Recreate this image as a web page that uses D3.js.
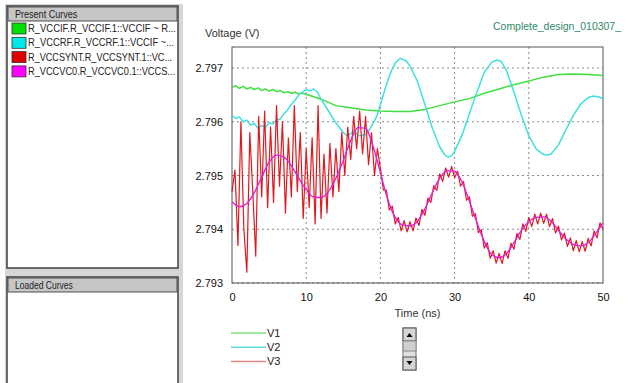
<!DOCTYPE html>
<html>
<head>
<meta charset="utf-8">
<script src="https://cdn.jsdelivr.net/npm/d3@7"></script>
<style>
  body { margin: 0; background: #fff; }
  svg { display: block; font-family: "Liberation Sans", Arial, sans-serif; }
</style>
</head>
<body>
<div id="chart"></div>
<script>
const xTicks = [0, 10, 20, 30, 40, 50];
const yTicks = [2.793, 2.794, 2.795, 2.796, 2.797];

const presentCurves = [
  "R_VCCIF.R_VCCIF.1::VCCIF ~ R...",
  "R_VCCRF.R_VCCRF.1::VCCIF ~...",
  "R_VCCSYNT.R_VCCSYNT.1::VC...",
  "R_VCCVC0.R_VCCVC0.1::VCCS..."
];
const curveColors = ["#00e000", "#00e8e8", "#e00000", "#ff00ff"];
const legendNames = ["V1", "V2", "V3"];
const legendColors = ["#80e080", "#60dede", "#e08484"];

// V1 (green)
const greenT = [0, 0.5, 1, 1.5, 2, 2.5, 3, 3.5, 4, 4.5, 5, 5.5, 6, 6.5, 7, 7.5, 8, 8.5, 9, 9.5, 10,
  12, 14, 16, 18, 20, 22, 24, 26, 28, 30, 32, 34, 36, 38, 40, 42, 44, 46, 48, 50];
const greenV = [2.79664, 2.79667, 2.79662, 2.79666, 2.79661, 2.79664, 2.7966, 2.79663, 2.79658, 2.79661,
  2.79657, 2.7966, 2.79656, 2.79658, 2.79654, 2.79656, 2.79653, 2.79655, 2.79652, 2.79653, 2.79651,
  2.79642, 2.7963, 2.79626, 2.79622, 2.7962, 2.79619, 2.79619, 2.79623, 2.7963, 2.79637, 2.79643,
  2.79653, 2.79661, 2.79669, 2.79676, 2.79683, 2.79688, 2.79689, 2.79688, 2.79686];

// V2 (cyan)
const cyanT = [0, 0.5, 1, 1.5, 2, 2.5, 3, 3.5, 4, 4.5, 5, 5.5, 6, 6.5, 7, 7.5, 8, 8.5, 9, 9.5, 10,
  10.5, 11, 11.5, 12, 13, 14, 15, 15.5, 16, 16.5, 17, 18, 18.5, 19, 19.5, 20, 20.5, 21, 21.5, 22,
  22.7, 23.5, 24, 25, 26, 27, 28, 28.6, 29.1, 29.6, 30, 31, 32, 33, 34, 35, 35.7, 36.3, 37, 38, 39,
  40, 41, 42, 42.5, 43, 44, 45, 46, 47, 48, 48.7, 49.5, 50];
const cyanV = [2.79612, 2.79606, 2.79609, 2.796, 2.79603, 2.79594, 2.79597, 2.79588, 2.79593, 2.79589,
  2.79598, 2.79596, 2.79603, 2.79605, 2.79615, 2.79622, 2.79632, 2.7964, 2.7965, 2.79655, 2.7966,
  2.79657, 2.79661, 2.79655, 2.79642, 2.7962, 2.79598, 2.7958, 2.79574, 2.79578, 2.79584, 2.79574,
  2.79576, 2.79585, 2.79597, 2.7961, 2.79632, 2.79655, 2.79677, 2.79695, 2.79709, 2.79718, 2.79713,
  2.79703, 2.79675, 2.79632, 2.79588, 2.79553, 2.7954, 2.79534, 2.79537, 2.79545, 2.79575, 2.79615,
  2.79655, 2.79692, 2.79711, 2.79715, 2.79712, 2.79695, 2.79655, 2.79612, 2.79574, 2.79549, 2.79539,
  2.79538, 2.7954, 2.79557, 2.79585, 2.79612, 2.79633, 2.79645, 2.79648, 2.79646, 2.79642];

// V4 (magenta), 1 ns steps
const magentaT = d3.range(0, 51);
const magentaV = [2.79451, 2.79442, 2.79448, 2.79468, 2.79497, 2.79525, 2.79538, 2.79534, 2.79518,
  2.79495, 2.79474, 2.7946, 2.79459, 2.7947, 2.79495, 2.79528, 2.79565, 2.79589, 2.79588, 2.79555,
  2.79505, 2.79455, 2.79422, 2.79408, 2.79406, 2.79415, 2.79438, 2.79468, 2.79495, 2.79509, 2.79508,
  2.79488, 2.79452, 2.79413, 2.79377, 2.79353, 2.79347, 2.79355, 2.79375, 2.79398, 2.79414, 2.79422,
  2.79423, 2.79415, 2.79398, 2.79382, 2.79372, 2.79369, 2.79375, 2.79392, 2.79412];

// V3 (red), sampled every 0.4 ns
const redV = [
  2.7947, 2.7951, 2.7937, 2.7960, 2.7940, 2.7932, 2.7958, 2.7947, 2.7935, 2.7961,
  2.7946, 2.7962, 2.7944, 2.7959, 2.7945, 2.7963, 2.7948, 2.7960, 2.7943, 2.7957,
  2.7946, 2.7963, 2.7947, 2.7958, 2.7942, 2.7955, 2.7944, 2.7957, 2.7941, 2.7963,
  2.7942, 2.7954, 2.7943, 2.7956, 2.7946, 2.7955, 2.7947, 2.7958, 2.7950, 2.7959,
  2.7953, 2.7961, 2.7955, 2.7962, 2.7954, 2.7961, 2.7952, 2.7958, 2.7950, 2.7955,
  2.79513, 2.79473, 2.79473, 2.79436, 2.79443, 2.7941, 2.79422, 2.79397, 2.79416, 2.79395,
  2.79414, 2.79397, 2.79421, 2.79407, 2.79437, 2.79426, 2.79458, 2.7945, 2.79481, 2.79472,
  2.79503, 2.79489, 2.79514, 2.79497, 2.79517, 2.79496, 2.79508, 2.7948, 2.79489, 2.79454,
  2.7946, 2.79424, 2.79429, 2.79394, 2.79399, 2.79365, 2.79375, 2.79346, 2.7936, 2.79337,
  2.79355, 2.79336, 2.7936, 2.79346, 2.79374, 2.79363, 2.79392, 2.79381, 2.7941, 2.79396,
  2.79422, 2.79405, 2.79428, 2.7941, 2.7943, 2.79411, 2.79428, 2.79405, 2.7942, 2.79393,
  2.79406, 2.7938, 2.79393, 2.79368, 2.79384, 2.7936, 2.79379, 2.79358, 2.79377, 2.79359,
  2.79383, 2.79369, 2.79397, 2.79384, 2.79412, 2.794
];
const redStep = 0.4;

// ---- layout ----
const W = 628, H = 383;
const plot = { left: 232, right: 603, top: 47, bottom: 283 };

const svg = d3.select("#chart").append("svg")
  .attr("width", W)
  .attr("height", H);

// left "curves" panels
const side = svg.append("g");
side.append("rect").attr("x", 5).attr("y", 4).attr("width", 178).attr("height", 379)
  .attr("fill", "#d6d6d6");
function panel(y0, h, title) {
  side.append("rect").attr("x", 7).attr("y", y0).attr("width", 171).attr("height", h)
    .attr("fill", "#fff").attr("stroke", "#404040").attr("stroke-width", 1.5);
  side.append("rect").attr("x", 8).attr("y", y0 + 1).attr("width", 169).attr("height", 14)
    .attr("fill", "#c6c6c6").attr("stroke", "#505050");
  side.append("text").attr("x", 15).attr("y", y0 + 12).attr("font-size", 10.5)
    .attr("textLength", title.length * 4.45).attr("lengthAdjust", "spacingAndGlyphs")
    .attr("fill", "#222").text(title);
}
panel(6, 262, "Present Curves");
panel(277, 110, "Loaded Curves");

const rowEnds = [176, 174, 172, 175];
presentCurves.forEach(function(name, i) {
  const y = 28 + i * 14.3;
  side.append("rect").attr("x", 12).attr("y", y - 5).attr("width", 14).attr("height", 11)
    .attr("fill", curveColors[i]).attr("stroke", "#333").attr("stroke-width", 0.8);
  side.append("text").attr("x", 28).attr("y", y + 4).attr("font-size", 11)
    .attr("textLength", rowEnds[i] - 28).attr("lengthAdjust", "spacingAndGlyphs")
    .attr("fill", "#222").text(name);
});

// scales
const x = d3.scaleLinear().domain([0, 50]).range([plot.left, plot.right]);
const y = d3.scaleLinear().domain([2.793, 2.797]).range([plot.bottom, 68]);

// title and axis names
svg.append("text").attr("x", 493).attr("y", 30).attr("font-size", 11)
  .attr("textLength", 128).attr("lengthAdjust", "spacingAndGlyphs")
  .attr("fill", "#2f8a6a").text("Complete_design_010307_");
svg.append("text").attr("x", 205).attr("y", 37).attr("font-size", 11)
  .attr("fill", "#333").text("Voltage (V)");
svg.append("text").attr("x", (plot.left + plot.right) / 2).attr("y", 317)
  .attr("text-anchor", "middle").attr("font-size", 11).attr("fill", "#333").text("Time (ns)");

// grid
const grid = svg.append("g").attr("stroke", "#8a8a8a").attr("stroke-dasharray", "2,3");
grid.selectAll(".gx").data(xTicks.slice(1, -1)).enter().append("line")
  .attr("x1", d => x(d)).attr("x2", d => x(d))
  .attr("y1", plot.top).attr("y2", plot.bottom);
grid.selectAll(".gy").data(yTicks).enter().append("line")
  .attr("x1", plot.left).attr("x2", plot.right)
  .attr("y1", d => y(d)).attr("y2", d => y(d));

// frame
svg.append("rect").attr("x", plot.left).attr("y", plot.top)
  .attr("width", plot.right - plot.left).attr("height", plot.bottom - plot.top)
  .attr("fill", "none").attr("stroke", "#555").attr("stroke-width", 1);

// axes (labels only, the viewer draws no tick marks)
const xAxis = svg.append("g").attr("transform", "translate(0," + (plot.bottom + 7) + ")")
  .call(d3.axisBottom(x).tickValues(xTicks).tickSize(0).tickFormat(d3.format("d")));
const yAxis = svg.append("g").attr("transform", "translate(" + (plot.left - 6) + ",0)")
  .call(d3.axisLeft(y).tickValues(yTicks).tickSize(0).tickFormat(d3.format(".3f")));
[xAxis, yAxis].forEach(function(a) {
  a.select(".domain").remove();
  a.selectAll("text").attr("font-size", 11).attr("fill", "#111")
    .attr("font-family", "'Liberation Sans', Arial, sans-serif");
});

// curves
const line = d3.line().x(d => x(d[0])).y(d => y(d[1]));
const curves = svg.append("g").attr("fill", "none")
  .attr("stroke-linejoin", "round");

curves.append("path").datum(greenT.map((t, i) => [t, greenV[i]]))
  .attr("d", line).attr("stroke", "#3ee03e").attr("stroke-width", 1.5);
curves.append("path").datum(cyanT.map((t, i) => [t, cyanV[i]]))
  .attr("d", line).attr("stroke", "#3fe0e0").attr("stroke-width", 1.5);
curves.append("path").datum(redV.map((v, i) => [i * redStep, v]))
  .attr("d", line).attr("stroke", "#e0191e").attr("stroke-width", 1.2);
curves.append("path").datum(magentaT.map((t, i) => [t, magentaV[i]]))
  .attr("d", d3.line().curve(d3.curveMonotoneX).x(d => x(d[0])).y(d => y(d[1])))
  .attr("stroke", "#e020d8").attr("stroke-width", 1.4);

// legend below the plot
const legend = svg.append("g");
legendNames.forEach(function(n, i) {
  const ly = 333 + i * 14.2;
  legend.append("line").attr("x1", 231).attr("x2", 266).attr("y1", ly).attr("y2", ly)
    .attr("stroke", legendColors[i]).attr("stroke-width", 1.5);
  legend.append("text").attr("x", 267).attr("y", ly + 4).attr("font-size", 11)
    .attr("fill", "#222").text(n);
});

// little scroll control
const sb = svg.append("g");
sb.append("rect").attr("x", 403).attr("y", 328).attr("width", 13).attr("height", 42)
  .attr("fill", "#e0e0e0").attr("stroke", "#777");
sb.append("rect").attr("x", 403).attr("y", 328).attr("width", 13).attr("height", 13)
  .attr("fill", "#d4d4d4").attr("stroke", "#555");
sb.append("rect").attr("x", 403).attr("y", 357).attr("width", 13).attr("height", 13)
  .attr("fill", "#d4d4d4").attr("stroke", "#555");
sb.append("rect").attr("x", 403).attr("y", 341).attr("width", 13).attr("height", 10)
  .attr("fill", "#cfcfcf").attr("stroke", "#888");
sb.append("path").attr("d", "M406.5,337 L409.5,333 L412.5,337 Z").attr("fill", "#000");
sb.append("path").attr("d", "M406.5,361 L409.5,365 L412.5,361 Z").attr("fill", "#000");
</script>
</body>
</html>
